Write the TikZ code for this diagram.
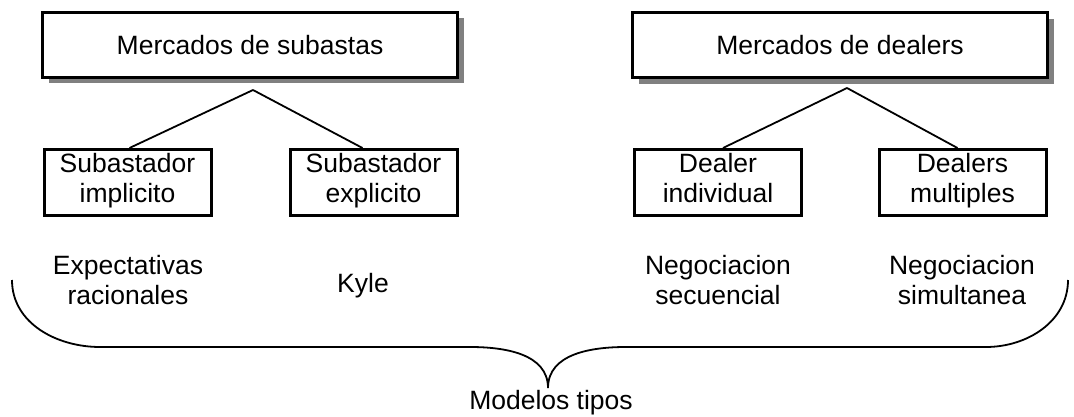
\documentclass[tikz,border=0pt]{standalone}
\usepackage{fontspec}
\setmainfont{Liberation Sans}
\usetikzlibrary{shadows,positioning,calc}

\tikzset{
  mercado/.style={draw, line width=3pt, fill=white, minimum width=415pt, minimum height=65pt,
                  drop shadow={shadow xshift=6pt, shadow yshift=-6pt, fill=black!50, opacity=1}},
  tipo/.style={draw, line width=3pt, fill=white, minimum width=167pt, minimum height=66pt, align=center,
               execute at begin node=\strut, execute at end node=\strut},
  modelo/.style={align=center, execute at begin node=\strut, execute at end node=\strut},
}

\begin{document}
\begin{tikzpicture}[-, x=1pt, y=-1pt, line width=1.8pt,
                    font=\fontsize{26.5}{30}\selectfont]

\useasboundingbox (0,0) rectangle (1074,417);

\node[mercado] (subastas)   at (250,45)    {Mercados de subastas};
\node[mercado] (dealers)    at (840,45.5)  {Mercados de dealers};

\node[tipo]    (implicito)  at (127.5,182.5) {Subastador\\implicito};
\node[tipo]    (explicito)  at (373.5,182.5) {Subastador\\explicito};
\node[tipo]    (individual) at (718,182.5)   {Dealer\\individual};
\node[tipo]    (multiples)  at (962.5,182.5) {Dealers\\multiples};

\node[modelo]  (expect)     at (128,284)  {Expectativas\\racionales};
\node[modelo]  (kyle)       at (363,286)  {Kyle};
\node[modelo]  (secuencial) at (718,284)  {Negociacion\\secuencial};
\node[modelo]  (simultanea) at (962,284)  {Negociacion\\simultanea};

\node          (tipos)      at (551,403)  {Modelos tipos};

\coordinate (forkS) at (253,90);
\coordinate (forkD) at (847,88);

\path (forkS) edge ([xshift=2pt]implicito.north);
\path (forkS) edge ([xshift=-11pt]explicito.north);
\path (forkD) edge ([xshift=5pt]individual.north);
\path (forkD) edge ([xshift=-5pt]multiples.north);

\coordinate (braceL) at (12,280);
\coordinate (braceM) at (548,388);
\coordinate (braceR) at (1068,280);

\draw (braceL) to[out=-90, in=180] (100,347) -- (470,347)
               to[out=0, in=90] (braceM)
               to[out=90, in=180] (626,347) -- (986,347)
               to[out=0, in=-90] (braceR);

\end{tikzpicture}
\end{document}
